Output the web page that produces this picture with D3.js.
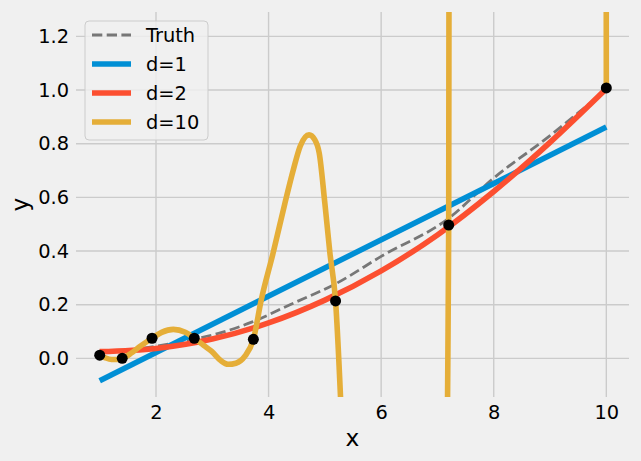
<!DOCTYPE html>
<html>
<head>
<meta charset="utf-8">
<script src="https://cdn.jsdelivr.net/npm/d3@7"></script>
<style>
    body { margin: 0; background: #f0f0f0; }
    svg { display: block; font-family: 'DejaVu Sans', sans-serif; }
</style>
</head>
<body>
<div id="chart"></div>
<script>
// observed samples (black dots)
const obsX = [1.0, 1.4, 1.93, 2.68, 3.73, 5.19, 7.2, 10.0];
const obsY = [0.012, 0.0, 0.075, 0.075, 0.071, 0.214, 0.497, 1.008];

// dashed truth curve
const truthX = [1.0, 1.5, 2.0, 2.68, 3.11, 3.7, 4.38, 5.21, 6.0, 7.2, 8.0, 9.0, 9.5, 10.0];
const truthY = [0.02, 0.03, 0.045, 0.072, 0.093, 0.135, 0.2, 0.28, 0.38, 0.522, 0.672, 0.83, 0.915, 1.0];

// degree 1 fit
const d1X = [1.0, 10.0];
const d1Y = [-0.083, 0.862];

// degree 2 fit
const d2X = [1, 2, 3, 4, 5, 6, 7, 8, 9, 10];
const d2Y = [0.025, 0.037, 0.072, 0.132, 0.217, 0.326, 0.46, 0.622, 0.805, 1.005];

// degree 10 fit (leaves the plot between ~5.3 and 10)
const d10X = [1.0, 1.1, 1.21, 1.3, 1.4, 1.55, 1.7, 1.93, 2.1, 2.31, 2.52, 2.68, 2.85, 2.99,
    3.15, 3.28, 3.42, 3.58, 3.73, 3.87, 4.08, 4.29, 4.44, 4.56, 4.72, 4.82, 4.9, 5.0, 5.09,
    5.19, 5.3, 5.5, 6.2, 6.9, 7.1, 7.2, 7.3, 8.5, 9.9, 10.0];
const d10Y = [0.012, 0.002, -0.004, -0.004, 0.0, 0.018, 0.042, 0.075, 0.097, 0.108, 0.097, 0.075, 0.048, 0.026,
    -0.008, -0.022, -0.018, 0.008, 0.071, 0.218, 0.392, 0.578, 0.703, 0.79, 0.833, 0.815, 0.765, 0.578, 0.392,
    0.214, -0.25, -1.5, -6.0, -4.0, -1.5, 0.497, 20, 150, 30, 1.008];

const xTicks = [2, 4, 6, 8, 10];
const yTicks = [0.0, 0.2, 0.4, 0.6, 0.8, 1.0, 1.2];

const seriesNames = ['Truth', 'd=1', 'd=2', 'd=10'];
const COLORS = ['#777777', '#008fd5', '#fc4f30', '#e5ae38'];

const W = 641;
const H = 461;
const plot = { left: 76, right: 629, top: 12, bottom: 397 };

const svg = d3.select('#chart')
    .append('svg')
    .attr('width', W)
    .attr('height', H);

svg.append('rect')
    .attr('width', W)
    .attr('height', H)
    .attr('fill', '#f0f0f0');

const x = d3.scaleLinear().domain([0.579, 10.403]).range([plot.left, plot.right]);
const y = d3.scaleLinear().domain([-0.144, 1.291]).range([plot.bottom, plot.top]);

// grid lines
const grid = svg.append('g').attr('stroke', '#cbcbcb').attr('stroke-width', 1.4);
grid.selectAll('.vx')
    .data(xTicks)
    .enter()
    .append('line')
    .attr('x1', (d) => x(d))
    .attr('x2', (d) => x(d))
    .attr('y1', plot.top)
    .attr('y2', plot.bottom);
grid.selectAll('.hy')
    .data(yTicks)
    .enter()
    .append('line')
    .attr('x1', plot.left)
    .attr('x2', plot.right)
    .attr('y1', (d) => y(d))
    .attr('y2', (d) => y(d));

// axes, ticks hidden like the fivethirtyeight style
const xAxis = svg.append('g')
    .attr('transform', 'translate(0,' + plot.bottom + ')')
    .call(d3.axisBottom(x).tickValues(xTicks).tickSize(0).tickPadding(8).tickFormat(d3.format('d')));
const yAxis = svg.append('g')
    .attr('transform', 'translate(' + plot.left + ',0)')
    .call(d3.axisLeft(y).tickValues(yTicks).tickSize(0).tickPadding(7).tickFormat(d3.format('.1f')));
[xAxis, yAxis].forEach((g) => {
    g.select('.domain').remove();
    g.selectAll('text')
        .attr('fill', '#000')
        .style('font-size', '19.4px')
        .style('font-family', "'DejaVu Sans', sans-serif");
});

svg.append('text')
    .attr('x', (plot.left + plot.right) / 2)
    .attr('y', 446)
    .attr('text-anchor', 'middle')
    .style('font-size', '23.3px')
    .text('x');
svg.append('text')
    .attr('transform', 'translate(28,' + (plot.top + plot.bottom) / 2 + ') rotate(-90)')
    .attr('text-anchor', 'middle')
    .style('font-size', '23.3px')
    .text('y');

svg.append('clipPath')
    .attr('id', 'clip')
    .append('rect')
    .attr('x', plot.left)
    .attr('y', plot.top)
    .attr('width', plot.right - plot.left)
    .attr('height', plot.bottom - plot.top);

const lines = svg.append('g').attr('clip-path', 'url(#clip)');

const makeLine = (curve) => d3.line()
    .x((d) => x(d[0]))
    .y((d) => y(d[1]))
    .curve(curve);

const series = [
    { xs: truthX, ys: truthY, width: 2.8, dash: '10.3,4.4', curve: d3.curveMonotoneX },
    { xs: d1X, ys: d1Y, width: 5.6, dash: null, curve: d3.curveLinear },
    { xs: d2X, ys: d2Y, width: 5.6, dash: null, curve: d3.curveMonotoneX },
    { xs: d10X, ys: d10Y, width: 5.6, dash: null, curve: d3.curveMonotoneX }
];

series.forEach((s, i) => {
    lines.append('path')
        .datum(s.xs.map((v, j) => [v, s.ys[j]]))
        .attr('d', makeLine(s.curve))
        .attr('fill', 'none')
        .attr('stroke', COLORS[i])
        .attr('stroke-width', s.width)
        .attr('stroke-dasharray', s.dash);
});

lines.selectAll('circle')
    .data(obsX.map((v, j) => [v, obsY[j]]))
    .enter()
    .append('circle')
    .attr('cx', (d) => x(d[0]))
    .attr('cy', (d) => y(d[1]))
    .attr('r', 5.5)
    .attr('fill', '#000');

// legend
const legend = svg.append('g').attr('transform', 'translate(85,21)');
legend.append('rect')
    .attr('width', 123)
    .attr('height', 119)
    .attr('rx', 4)
    .attr('fill', '#f0f0f0')
    .attr('fill-opacity', 0.8)
    .attr('stroke', '#cccccc')
    .attr('stroke-width', 1);

const rows = legend.selectAll('.row')
    .data(seriesNames)
    .enter()
    .append('g')
    .attr('transform', (d, i) => 'translate(0,' + (14 + i * 29) + ')');
rows.append('line')
    .attr('x1', 7)
    .attr('x2', 46)
    .attr('stroke', (d, i) => COLORS[i])
    .attr('stroke-width', (d, i) => series[i].width)
    .attr('stroke-dasharray', (d, i) => series[i].dash);
rows.append('text')
    .attr('x', 61)
    .attr('dy', '0.36em')
    .style('font-size', '19.4px')
    .text((d) => d);
</script>
</body>
</html>
